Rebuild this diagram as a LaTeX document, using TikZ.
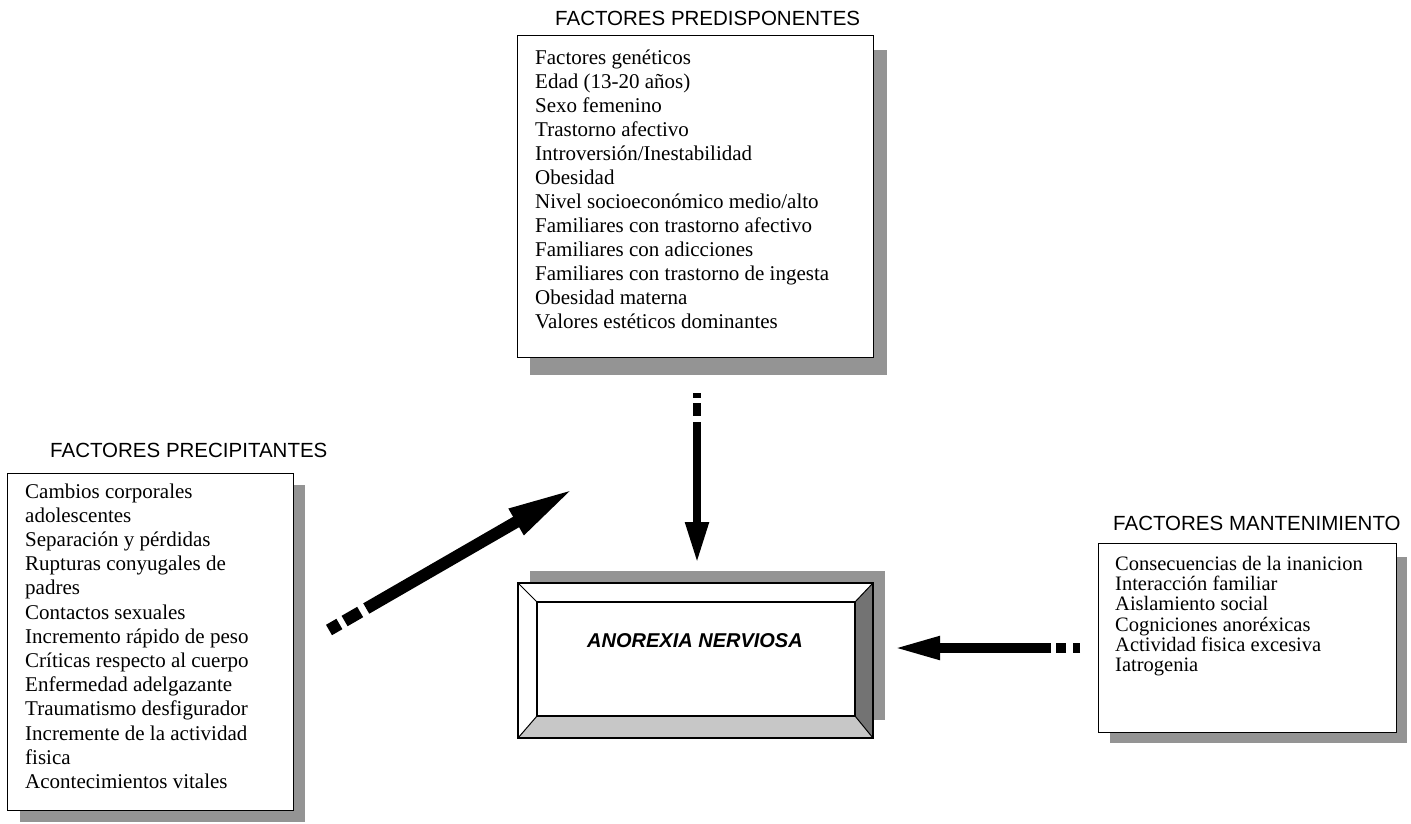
\documentclass[tikz,border=0pt]{standalone}
\usepackage{fontspec}
\setmainfont{Liberation Serif}
\setsansfont{Liberation Sans}
\usetikzlibrary{arrows.meta}
\tikzset{
  shadowfill/.style={fill=black!42, draw=none},
  listbox/.style={draw=black, line width=1.2pt, fill=white, inner sep=0pt, anchor=north west},
  titletext/.style={font=\sffamily\fontsize{20.5}{24}\selectfont, inner sep=0pt, anchor=base west},
  listtext/.style={inner sep=0pt, anchor=base west, align=left},
  bigarrow/.style={draw=black, line cap=butt}
}
\begin{document}
\begin{tikzpicture}[x=1pt,y=-1pt]
\useasboundingbox (0,0) rectangle (1411,823);

% ---------- FACTORES PREDISPONENTES ----------
\node[titletext] (pdtitle) at (555,25) {FACTORES PREDISPONENTES};
\fill[shadowfill] (530,50) rectangle (887,375);
\node[listbox, minimum width=356pt, minimum height=322pt] (pdbox) at (517,35) {};
\node[listtext] (pdlist) at (535,64) {\fontsize{21}{24}\selectfont\begin{tabular}[t]{@{}l@{}}
Factores genéticos\\
Edad (13-20 años)\\
Sexo femenino\\
Trastorno afectivo\\
Introversión/Inestabilidad\\
Obesidad\\
Nivel socioeconómico medio/alto\\
Familiares con trastorno afectivo\\
Familiares con adicciones\\
Familiares con trastorno de ingesta\\
Obesidad materna\\
Valores estéticos dominantes
\end{tabular}};

% ---------- FACTORES PRECIPITANTES ----------
\node[titletext] (pctitle) at (50,457) {FACTORES PRECIPITANTES};
\fill[shadowfill] (20,485) rectangle (305,822);
\node[listbox, minimum width=286pt, minimum height=337pt] (pcbox) at (7,473) {};
\node[listtext] (pclist) at (25,498) {\fontsize{21}{24.2}\selectfont\begin{tabular}[t]{@{}l@{}}
Cambios corporales\\
adolescentes\\
Separación y pérdidas\\
Rupturas conyugales de\\
padres\\
Contactos sexuales\\
Incremento rápido de peso\\
Críticas respecto al cuerpo\\
Enfermedad adelgazante\\
Traumatismo desfigurador\\
Incremente de la actividad\\
fisica\\
Acontecimientos vitales
\end{tabular}};

% ---------- FACTORES MANTENIMIENTO ----------
\node[titletext] (mttitle) at (1113,530) {FACTORES MANTENIMIENTO};
\fill[shadowfill] (1110,557) rectangle (1407,743);
\node[listbox, minimum width=298pt, minimum height=189pt] (mtbox) at (1098,543) {};
\node[listtext] (mtlist) at (1115,570) {\fontsize{20.5}{20.2}\selectfont\begin{tabular}[t]{@{}l@{}}
Consecuencias de la inanicion\\
Interacción familiar\\
Aislamiento social\\
Cogniciones anoréxicas\\
Actividad fisica excesiva\\
Iatrogenia
\end{tabular}};

% ---------- ANOREXIA NERVIOSA ----------
\fill[shadowfill] (530,571) rectangle (885,720);
\node[draw=black, line width=1.2pt, fill=white, inner sep=0pt, anchor=north west,
      minimum width=355pt, minimum height=155pt] (anbox) at (518,583) {};
\fill[black!55] (855,602) -- (873,583) -- (873,738) -- (855,716) -- cycle;
\fill[black!22] (518,738) -- (537,716) -- (855,716) -- (873,738) -- cycle;
\draw[line width=1.2pt] (518,583) rectangle (873,738);
\draw[line width=1.2pt] (537,602) rectangle (855,716);
\draw[line width=1pt] (518,583) -- (537,602) (873,583) -- (855,602)
      (518,738) -- (537,716) (873,738) -- (855,716);
\node[font=\sffamily\bfseries\itshape\fontsize{20}{24}\selectfont, inner sep=0pt] (an) at (695,641) {ANOREXIA NERVIOSA};

% ---------- ARROWS ----------
\coordinate (pdtail) at (697,393);
\coordinate (pdtip) at (697,563);
\draw[bigarrow, line width=8pt, dash pattern=on 5pt off 5pt on 13pt off 6pt on 400pt,
      -{Triangle[length=41pt,width=22pt]}] (pdtail) -- (pdtip);

\coordinate (pctail) at (329,630);
\coordinate (pctip) at (575,488);
\draw[bigarrow, line width=12pt, dash pattern=on 12pt off 6pt on 18pt off 7pt on 400pt,
      -{Triangle[length=68pt,width=27pt]}] (pctail) -- (pctip);

\coordinate (mttail) at (1080,648);
\coordinate (mttip) at (892,648);
\draw[bigarrow, line width=10pt, dash pattern=on 7pt off 7pt on 10pt off 5pt on 400pt,
      -{Triangle[length=48pt,width=21pt]}] (mttail) -- (mttip);
\end{tikzpicture}
\end{document}
